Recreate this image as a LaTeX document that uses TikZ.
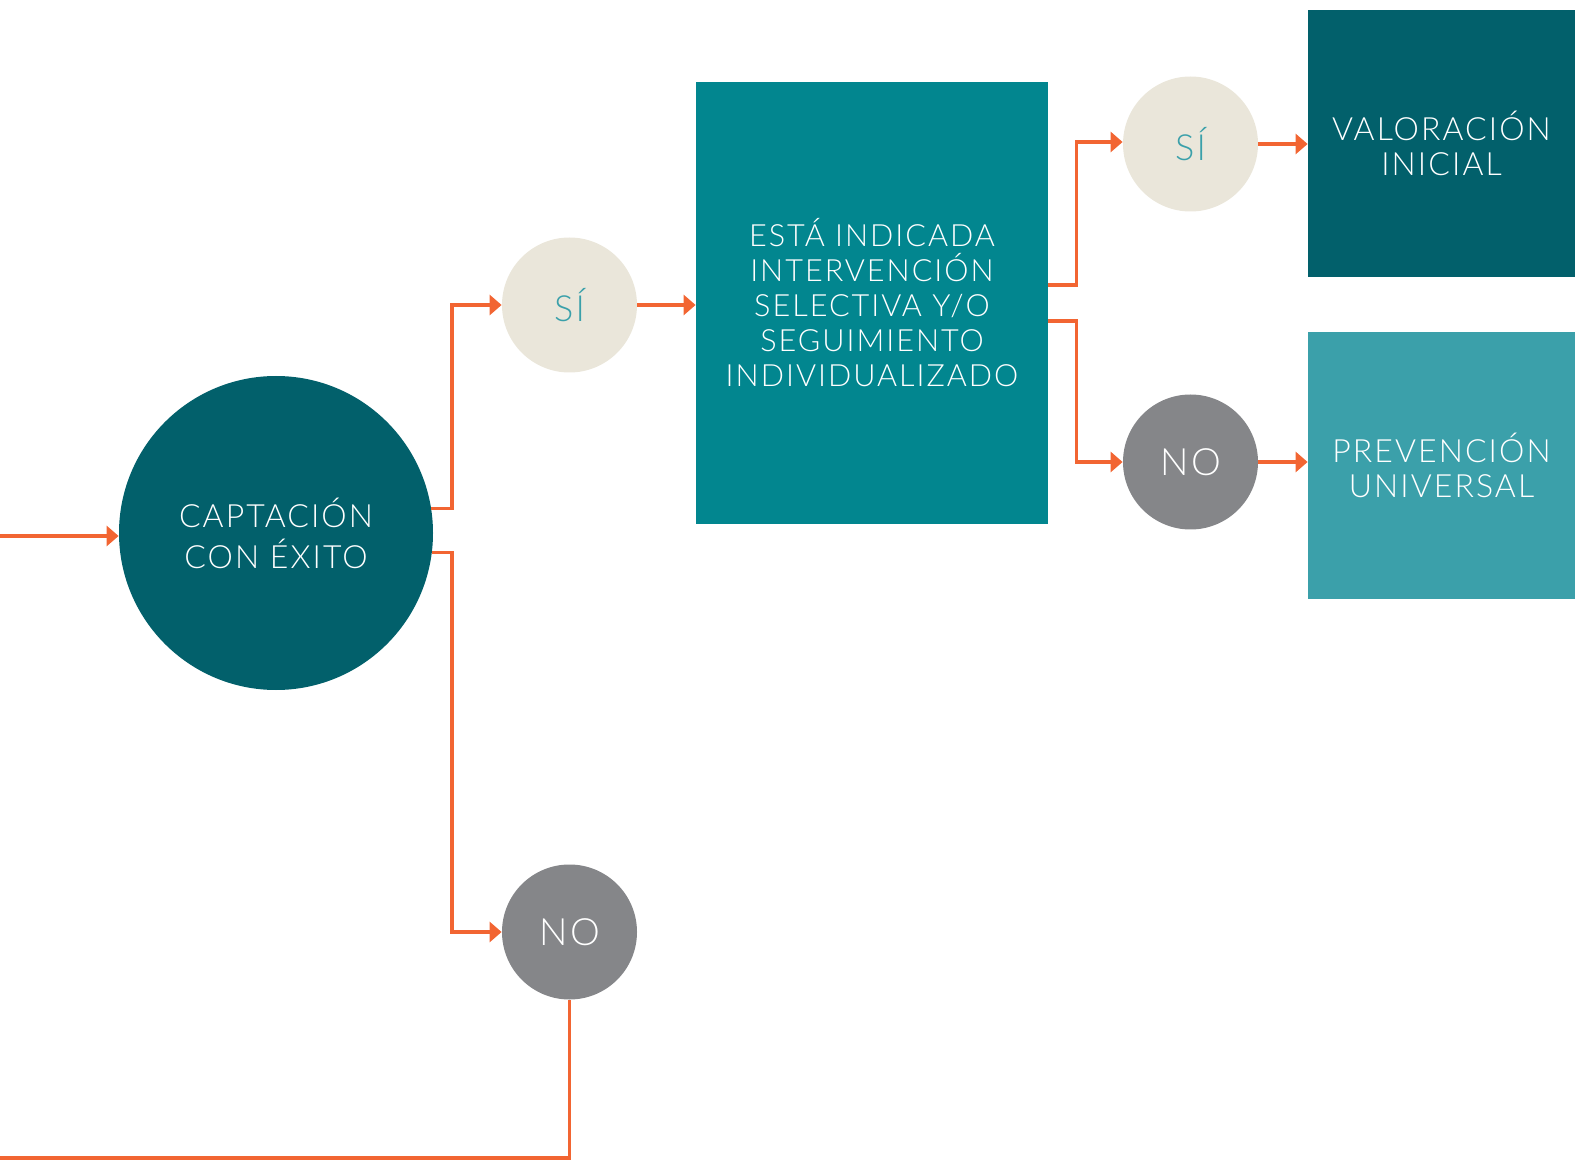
\documentclass[tikz,border=0pt]{standalone}
\usepackage{fontspec}
\setmainfont{Lato Light}[LetterSpace=6.5]
\usetikzlibrary{arrows.meta,calc}
\definecolor{darkteal}{HTML}{02606B}
\definecolor{midteal}{HTML}{02868F}
\definecolor{lightteal}{HTML}{3BA0AA}
\definecolor{beige}{HTML}{EAE6DA}
\definecolor{greycirc}{HTML}{858689}
\definecolor{orangeline}{HTML}{F26532}
\definecolor{sitext}{HTML}{3AA0AA}
\tikzset{
  arr/.style={draw=orangeline, line width=1.6pt, -{Triangle[length=6pt,width=10pt]}},
  plainline/.style={draw=orangeline, line width=1.6pt},
  bigcirc/.style={circle, fill=darkteal, minimum size=157pt, inner sep=0pt, text=white, align=center,
    font=\fontsize{16pt}{20.5pt}\selectfont},
  sicirc/.style={circle, fill=beige, minimum size=67.5pt, inner sep=0pt, text=sitext,
    font=\fontsize{18pt}{20pt}\selectfont},
  nocirc/.style={circle, fill=greycirc, minimum size=67.5pt, inner sep=0pt, text=white,
    font=\fontsize{18.8pt}{20pt}\selectfont},
  mainbox/.style={rectangle, fill=midteal, minimum width=176pt, minimum height=221pt, inner sep=0pt,
    text=white, align=center, font=\fontsize{15.3pt}{17.5pt}\selectfont},
  outbox/.style={rectangle, minimum width=133.5pt, minimum height=133.5pt, inner sep=0pt,
    text=white, align=center, font=\fontsize{16pt}{17.5pt}\selectfont},
}
\begin{document}
\begin{tikzpicture}[x=0.5pt,y=-0.5pt]
\useasboundingbox (0,0) rectangle (1575,1160);
\node[bigcirc] (cap) at (276,533) {CAPTACIÓN\\CON ÉXITO};
\node[sicirc] (si1) at (569.5,305) {SÍ};
\node[nocirc] (no1) at (569.5,932) {NO};
\node[mainbox] (box) at (872,303) {ESTÁ INDICADA\\INTERVENCIÓN\\SELECTIVA Y/O\\SEGUIMIENTO\\INDIVIDUALIZADO};
\node[sicirc] (si2) at (1190.5,144) {SÍ};
\node[nocirc] (no2) at (1190.5,462) {NO};
\node[outbox, fill=darkteal] (val) at (1441.5,143.5) {VALORACIÓN\\INICIAL};
\node[outbox, fill=lightteal] (prev) at (1441.5,465.5) {PREVENCIÓN\\UNIVERSAL};
\coordinate (start) at (0,536);
\coordinate (j1) at (452,0);
\coordinate (finish) at (0,1158);
\draw[arr] (start) -- (start -| cap.west);
\draw[arr] (cap.9.5) -- (cap.9.5 -| j1) |- (si1.west);
\draw[arr] (cap.-7) -- (cap.-7 -| j1) |- (no1.west);
\draw[arr] (si1.east) -- (si1.east -| box.west);
\draw[arr] ([yshift=9pt]box.east) -- ++(14pt,0) |- ([yshift=1pt]si2.west);
\draw[arr] ([yshift=-9pt]box.east) -- ++(14pt,0) |- (no2.west);
\draw[arr] (si2.east) -- (si2.east -| val.west);
\draw[arr] (no2.east) -- (no2.east -| prev.west);
\draw[plainline] (no1.south) -- (no1.south |- finish) -- (finish);
\end{tikzpicture}
\end{document}
